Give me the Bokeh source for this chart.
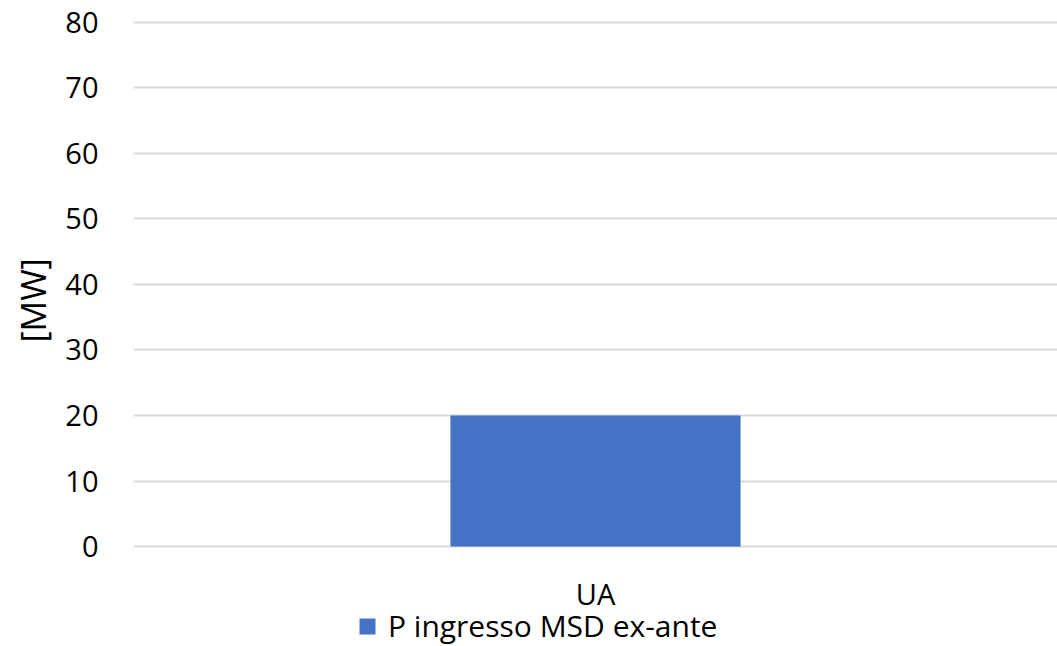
from bokeh.plotting import figure
from bokeh.models import Range1d, FactorRange, FixedTicker, Legend, LegendItem, ColumnDataSource, Title
from bokeh.core.properties import value
from bokeh.embed import file_html
from bokeh.resources import INLINE

categories = ["UA"]
values = [20]
series_name = "P ingresso MSD ex-ante"
y_ticks = [0, 10, 20, 30, 40, 50, 60, 70, 80]
y_label = "[MW]"

FONT = "Open Sans"
TXT = "#000000"
FS = "29px"

src = ColumnDataSource(data=dict(cat=categories, val=values, zero=[0] * len(categories)))

# frame spans to the bottom of the page so the category label and legend can sit below the 0 line
p = figure(width=1057, height=646, x_range=FactorRange(*categories, range_padding=0),
           y_range=Range1d(-15.267, 80.305), output_backend="svg", toolbar_location=None,
           min_border_left=133, min_border_right=0, min_border_top=20, min_border_bottom=0)
p.outline_line_color = None
p.xaxis.visible = False

r = p.vbar(x="cat", top="val", width=0.314, source=src, fill_color="#4472C4", line_color=None)

# category label under the zero line
p.text(x="cat", y="zero", text="cat", source=src, y_offset=47, text_align="center",
       text_baseline="middle", text_font=value(FONT), text_font_size=FS, text_color=TXT)

p.yaxis.ticker = FixedTicker(ticks=y_ticks)
p.yaxis.axis_line_color = None
p.yaxis.major_tick_line_color = None
p.yaxis.minor_tick_line_color = None
p.yaxis.major_label_standoff = 29
p.yaxis.major_label_text_font = FONT
p.yaxis.major_label_text_font_size = FS
p.yaxis.major_label_text_color = TXT

# y-axis title, placed as a left-side title so it can sit over the 0-80 area
ytitle = Title(text=y_label, align="left", offset=304, standoff=13,
               text_font=FONT, text_font_size="34px", text_font_style="normal", text_color=TXT)
p.add_layout(ytitle, "left")

p.xgrid.grid_line_color = None
p.ygrid.ticker = FixedTicker(ticks=y_ticks)
p.ygrid.grid_line_color = "#D9D9D9"
p.ygrid.grid_line_width = 2

legend = Legend(items=[LegendItem(label=series_name, renderers=[r])],
                location=(224, 0), orientation="horizontal",
                border_line_color=None, background_fill_alpha=0,
                padding=0, margin=0, spacing=0,
                glyph_width=20, glyph_height=20, label_standoff=11,
                label_text_font=FONT, label_text_font_size="30px", label_text_color=TXT)
p.add_layout(legend, "center")

open("out.html", "w").write(file_html(p, INLINE))
